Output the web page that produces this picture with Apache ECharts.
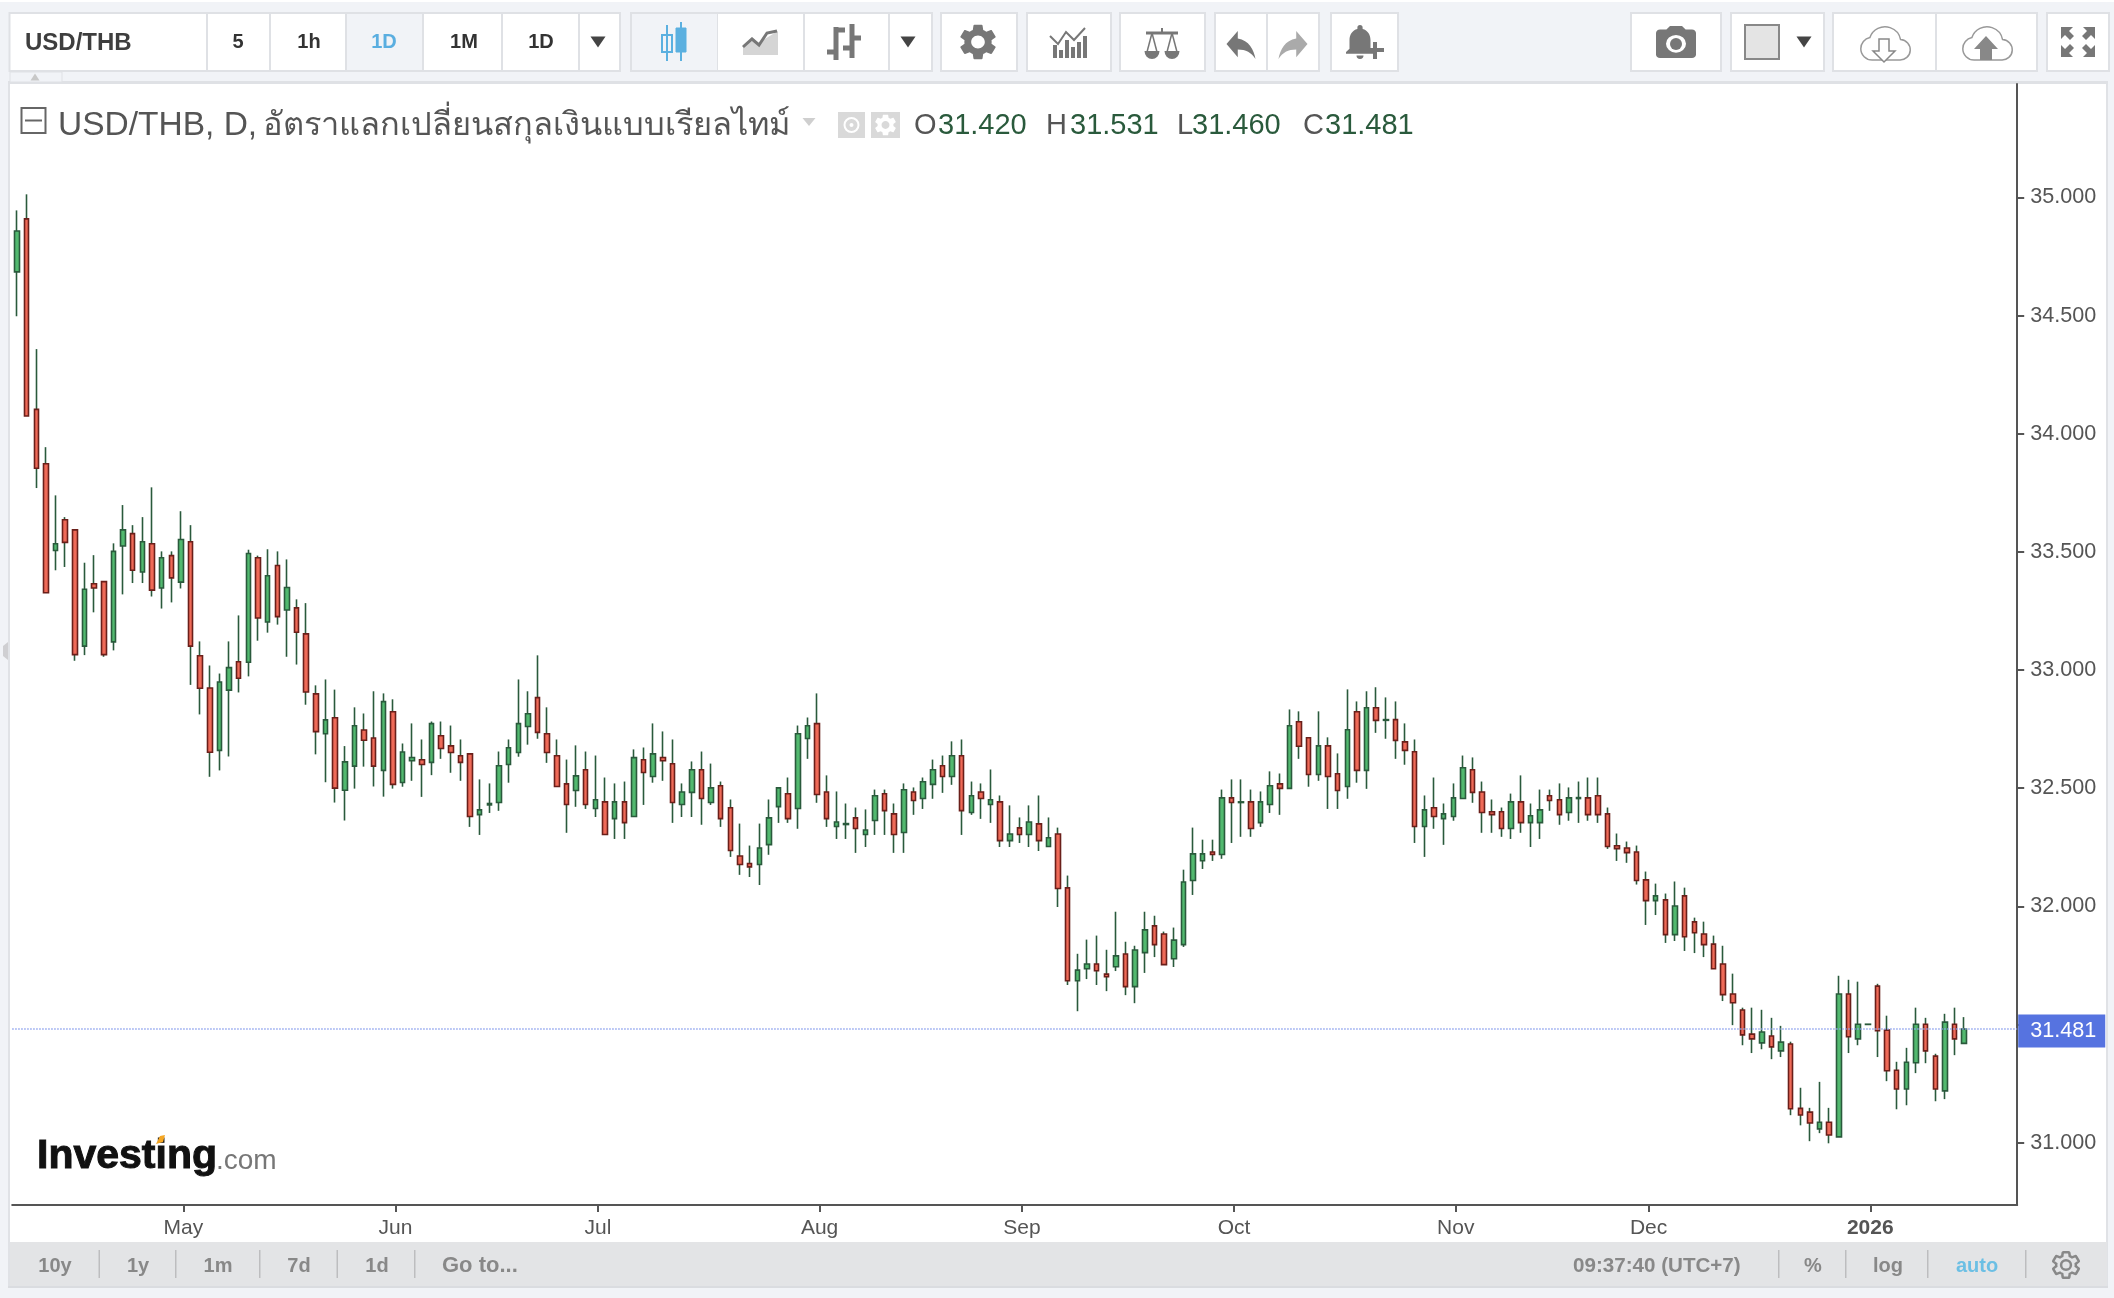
<!DOCTYPE html>
<html><head><meta charset="utf-8">
<style>html,body{margin:0;padding:0;background:#f1f3f7}#c{width:2114px;height:1298px}</style>
<script src="https://cdn.jsdelivr.net/npm/echarts@6/dist/echarts.min.js"></script>
</head><body><div id="c"></div>
<script>
const opens=[34.685,34.909,34.103,33.873,33.506,33.636,33.593,33.101,33.365,33.374,
33.119,33.525,33.577,33.415,33.534,33.347,33.484,33.372,33.543,33.060,
32.924,32.660,32.915,33.035,33.033,33.475,33.203,33.442,33.254,33.263,
33.153,32.899,32.730,32.798,32.491,32.593,32.746,32.712,32.575,32.823,
32.524,32.616,32.620,32.609,32.722,32.679,32.637,32.645,32.388,32.429,
32.439,32.600,32.651,32.761,32.883,32.730,32.637,32.518,32.490,32.578,
32.414,32.442,32.371,32.442,32.380,32.620,32.549,32.630,32.603,32.431,
32.482,32.578,32.439,32.510,32.417,32.213,32.181,32.177,32.261,32.422,
32.476,32.414,32.710,32.773,32.484,32.338,32.346,32.374,32.304,32.363,
32.476,32.391,32.312,32.484,32.456,32.516,32.595,32.549,32.637,32.397,
32.484,32.431,32.442,32.278,32.332,32.304,32.349,32.253,32.306,32.078,
31.685,31.736,31.756,31.713,31.744,31.798,31.660,31.804,31.917,31.883,
31.778,31.838,32.109,32.193,32.230,32.219,32.459,32.439,32.442,32.354,
32.431,32.518,32.499,32.781,32.713,32.558,32.679,32.561,32.507,32.823,
32.575,32.840,32.787,32.790,32.696,32.654,32.338,32.417,32.371,32.380,
32.456,32.578,32.484,32.400,32.400,32.329,32.442,32.354,32.354,32.468,
32.451,32.397,32.456,32.459,32.468,32.391,32.256,32.247,32.230,32.112,
32.024,32.027,31.880,32.044,31.934,31.883,31.840,31.756,31.629,31.561,
31.459,31.422,31.451,31.388,31.417,31.145,31.129,31.058,31.086,31.024,
31.629,31.439,31.500,31.662,31.476,31.306,31.227,31.338,31.501,31.366,31.219,31.501,31.420];
const closes=[34.858,34.075,33.854,33.327,33.534,33.540,33.065,33.342,33.347,33.065,
33.502,33.593,33.422,33.543,33.338,33.475,33.390,33.552,33.101,32.923,
32.652,32.949,33.010,32.965,33.493,33.220,33.399,33.226,33.349,33.160,
32.907,32.739,32.789,32.500,32.611,32.764,32.703,32.593,32.866,32.516,
32.653,32.630,32.600,32.773,32.668,32.651,32.609,32.380,32.408,32.435,
32.595,32.671,32.773,32.815,32.736,32.651,32.507,32.431,32.552,32.431,
32.451,32.304,32.442,32.354,32.629,32.566,32.645,32.616,32.439,32.484,
32.578,32.456,32.501,32.371,32.236,32.177,32.167,32.247,32.374,32.501,
32.371,32.730,32.764,32.473,32.371,32.357,32.350,32.329,32.323,32.468,
32.405,32.304,32.493,32.448,32.527,32.578,32.549,32.637,32.405,32.468,
32.456,32.451,32.278,32.306,32.304,32.357,32.278,32.290,32.075,31.685,
31.730,31.756,31.727,31.702,31.790,31.660,31.815,31.900,31.838,31.753,
31.857,32.103,32.222,32.222,32.219,32.459,32.439,32.442,32.329,32.442,
32.510,32.499,32.764,32.677,32.558,32.679,32.549,32.490,32.747,32.575,
32.840,32.787,32.790,32.702,32.660,32.338,32.408,32.380,32.391,32.459,
32.586,32.482,32.397,32.388,32.329,32.442,32.354,32.383,32.408,32.448,
32.388,32.459,32.460,32.388,32.388,32.253,32.244,32.227,32.109,32.024,
32.044,31.880,32.001,31.871,31.888,31.838,31.736,31.626,31.592,31.456,
31.439,31.468,31.405,31.425,31.143,31.117,31.083,31.086,31.032,31.629,
31.448,31.501,31.501,31.473,31.304,31.227,31.340,31.501,31.388,31.227,31.510,31.439,31.481];
const highs=[34.945,35.013,34.358,33.943,33.739,33.647,33.593,33.454,33.486,33.374,
33.536,33.698,33.613,33.647,33.773,33.502,33.502,33.672,33.613,33.121,
33.019,32.985,33.121,33.231,33.509,33.484,33.511,33.502,33.468,33.299,
33.283,32.935,32.960,32.917,32.678,32.842,32.816,32.910,32.901,32.876,
32.689,32.774,32.706,32.782,32.782,32.765,32.706,32.645,32.537,32.520,
32.655,32.706,32.960,32.910,33.062,32.842,32.706,32.621,32.681,32.655,
32.638,32.545,32.520,32.528,32.664,32.672,32.774,32.740,32.706,32.520,
32.613,32.655,32.604,32.528,32.452,32.350,32.257,32.350,32.452,32.501,
32.545,32.765,32.799,32.901,32.554,32.486,32.435,32.418,32.410,32.494,
32.494,32.435,32.520,32.503,32.545,32.621,32.638,32.698,32.706,32.528,
32.520,32.579,32.469,32.427,32.376,32.427,32.469,32.376,32.333,32.130,
31.799,31.859,31.876,31.816,31.977,31.850,31.833,31.977,31.960,31.893,
31.910,32.155,32.333,32.282,32.282,32.494,32.537,32.537,32.494,32.486,
32.571,32.562,32.833,32.825,32.713,32.825,32.715,32.647,32.918,32.867,
32.910,32.927,32.884,32.867,32.774,32.706,32.469,32.545,32.435,32.520,
32.638,32.630,32.528,32.452,32.418,32.477,32.554,32.435,32.494,32.494,
32.520,32.503,32.528,32.545,32.545,32.418,32.308,32.274,32.257,32.147,
32.096,32.054,32.105,32.079,31.952,31.935,31.876,31.833,31.715,31.571,
31.571,31.562,31.528,31.494,31.427,31.232,31.147,31.257,31.147,31.706,
31.689,31.681,31.501,31.672,31.537,31.342,31.401,31.571,31.528,31.376,31.545,31.571,31.531];
const lows=[34.497,34.075,33.770,33.327,33.422,33.436,33.039,33.063,33.244,33.056,
33.083,33.320,33.368,33.368,33.311,33.260,33.286,33.345,32.937,32.812,
32.548,32.575,32.634,32.905,32.973,33.124,33.158,33.192,33.056,33.023,
32.853,32.643,32.525,32.439,32.363,32.498,32.591,32.507,32.464,32.498,
32.506,32.531,32.463,32.555,32.624,32.565,32.531,32.336,32.302,32.395,
32.404,32.523,32.633,32.684,32.709,32.607,32.507,32.311,32.421,32.412,
32.378,32.304,32.285,32.285,32.380,32.429,32.523,32.531,32.353,32.378,
32.378,32.345,32.429,32.336,32.209,32.133,32.124,32.090,32.218,32.353,
32.353,32.328,32.624,32.438,32.336,32.285,32.285,32.226,32.251,32.302,
32.302,32.226,32.226,32.387,32.412,32.455,32.480,32.514,32.302,32.387,
32.370,32.353,32.251,32.251,32.268,32.251,32.234,32.253,31.997,31.667,
31.556,31.692,31.667,31.641,31.726,31.624,31.590,31.718,31.785,31.753,
31.743,31.828,32.048,32.158,32.192,32.201,32.268,32.294,32.294,32.336,
32.395,32.387,32.499,32.624,32.506,32.531,32.412,32.412,32.455,32.523,
32.497,32.734,32.709,32.624,32.599,32.268,32.209,32.328,32.260,32.362,
32.456,32.438,32.311,32.311,32.294,32.285,32.311,32.251,32.285,32.404,
32.345,32.362,32.353,32.362,32.353,32.243,32.192,32.184,32.092,31.921,
31.963,31.845,31.853,31.811,31.802,31.785,31.736,31.599,31.497,31.412,
31.379,31.395,31.353,31.362,31.116,31.073,31.006,31.040,30.997,31.024,
31.379,31.412,31.500,31.362,31.260,31.141,31.158,31.294,31.336,31.175,31.184,31.370,31.420];

const monthLabels=['May','Jun','Jul','Aug','Sep','Oct','Nov','Dec','2026'];
const monthStarts=[17,39,60,83,104,126,149,169,192];
const trailingEmptySlots=5;
const priceTicks=[31,31.5,32,32.5,33,33.5,34,34.5,35];
const lastClose=31.481;
const titleLatin='USD/THB, D,';
const titleThai='อัตราแลกเปลี่ยนสกุลเงินแบบเรียลไทม์';
const ohlcReadout=[['O','31.420'],['H','31.531'],['L','31.460'],['C','31.481']];

const categories=Array.from({length:opens.length+trailingEmptySlots},()=> '');
monthStarts.forEach((s,i)=>{categories[s]=monthLabels[i];});
const wickData=opens.map((o,i)=>[o,closes[i],lows[i],highs[i]]);
const bodyData=opens.map((o,i)=>[o,closes[i],Math.min(o,closes[i]),Math.max(o,closes[i])]);

const FONT='"Liberation Sans",Arial,sans-serif';
const GRAY='#555', BG='#f1f3f7', EDGE='#dfe1e5', DARKG='#2a5a3c';

const ICONS={
 gear:{d:'M19.14 12.94c.04-.3.06-.61.06-.94 0-.32-.02-.64-.07-.94l2.03-1.58c.18-.14.23-.41.12-.61l-1.92-3.32c-.12-.22-.37-.29-.59-.22l-2.39.96c-.5-.38-1.03-.7-1.62-.94l-.36-2.54c-.04-.24-.24-.41-.48-.41h-3.84c-.24 0-.43.17-.47.41l-.36 2.54c-.59.24-1.13.57-1.62.94l-2.39-.96c-.22-.08-.47 0-.59.22L2.74 8.87c-.12.21-.08.47.12.61l2.03 1.58c-.05.3-.09.63-.09.94s.02.64.07.94l-2.03 1.58c-.18.14-.23.41-.12.61l1.92 3.32c.12.22.37.29.59.22l2.39-.96c.5.38 1.03.7 1.62.94l.36 2.54c.05.24.24.41.48.41h3.84c.24 0 .44-.17.47-.41l.36-2.54c.59-.24 1.13-.56 1.62-.94l2.39.96c.22.08.47 0 .59-.22l1.92-3.32c.12-.22.07-.47-.12-.61l-2.01-1.58zM12 15.6c-1.98 0-3.6-1.62-3.6-3.6s1.62-3.6 3.6-3.6 3.6 1.62 3.6 3.6-1.62 3.6-3.6 3.6z',b:[12,12,19,19.5]},
 undo:{d:'M10 9V5l-7 7 7 7v-4.1c5 0 8.5 1.6 11 5.1-1-5-4-10-11-11z',b:[12,12.5,18,15]},
 redo:{d:'M14 9V5l7 7-7 7v-4.1c-5 0-8.5 1.6-11 5.1 1-5 4-10 11-11z',b:[12,12.5,18,15]},
 bell:{d:'M12 22a2 2 0 0 0 2-2h-4a2 2 0 0 0 2 2zm6-6v-5c0-3-1.6-5.6-4.5-6.3V4a1.5 1.5 0 0 0-3 0v.7C7.6 5.4 6 8 6 11v5l-2 2v1h16v-1z',b:[12,12.2,16,19.5]},
 camera:{d:'M20 5h-3.2L15 3H9L7.2 5H4c-1.1 0-2 .9-2 2v12c0 1.1.9 2 2 2h16c1.1 0 2-.9 2-2V7c0-1.1-.9-2-2-2zm-8 13a5 5 0 1 1 0-10 5 5 0 0 1 0 10z',b:[12,12,20,18]},
 cloud:{d:'M19 18H7a5 5 0 0 1-1-9.9A7 7 0 0 1 19.5 9 4.5 4.5 0 0 1 19 18z',b:[12.2,10.5,22,15]},
 bowl:{d:'M0 0h14a7 7 0 0 1-14 0z',b:[7,3.5,14,7]}
};
Object.keys(ICONS).forEach(k=>echarts.graphic.registerShape('ic_'+k,echarts.graphic.extendPath(ICONS[k].d,{})));

const els=[];
const R=(x,y,w,h,fill,stroke,lw,z)=>els.push({type:'rect',z:z===undefined?1:z,silent:true,shape:{x,y,width:w,height:h},style:{fill:fill||'none',stroke:stroke||'none',lineWidth:lw||0}});
const T=(x,y,t,o)=>els.push({type:'text',z:3,silent:true,x,y,style:Object.assign({text:t,font:'20px '+FONT,fill:'#333',textAlign:'center',textVerticalAlign:'middle'},o||{})});
const tri=(cx,cy,w,h,fill,up)=>els.push({type:'polygon',z:3,silent:true,shape:{points:up?[[cx-w/2,cy+h/2],[cx+w/2,cy+h/2],[cx,cy-h/2]]:[[cx-w/2,cy-h/2],[cx+w/2,cy-h/2],[cx,cy+h/2]]},style:{fill}});
const P=(k,cx,cy,w,h,fill,stroke,lw)=>{const b=ICONS[k].b,sx=w/b[2],sy=h/b[3];
  els.push({type:'ic_'+k,z:3,silent:true,shape:{},x:cx-b[0]*sx,y:cy-b[1]*sy,scaleX:sx,scaleY:sy,style:{fill:fill||'none',stroke:stroke||'none',lineWidth:lw||0,strokeNoScale:true}});};
const L=(pts,stroke,lw)=>els.push({type:'polyline',z:3,silent:true,shape:{points:pts},style:{stroke,lineWidth:lw,fill:'none'}});
const C=(cx,cy,r,fill,stroke,lw)=>els.push({type:'circle',z:3,silent:true,shape:{cx,cy,r},style:{fill:fill||'none',stroke:stroke||'none',lineWidth:lw||0}});

// frame
R(0,0,2114,2,'#ffffff',null,0,-3);
R(10,84,2097,1158,'#ffffff',null,0,-2);
R(8,83,2,1204,'#e0e2e6',null,0,0);
R(2106,83,2,1204,'#e0e2e6',null,0,0);
R(8,81,2100,3,'#dfe1e5',null,0,0);
R(10,1242,2097,45,'#e3e4e6',null,0,0);
R(8,1286,2100,2,'#dadce0',null,0,0);
els.push({type:'polygon',z:3,silent:true,shape:{points:[[8,642],[3,646],[3,656],[8,660]]},style:{fill:'#cfcfd2'}});
R(10,72,52,10,BG,EDGE,1);
tri(35,77,9,7,'#c8c8c8',true);

// toolbar
const btn=(x1,x2,seps)=>{R(x1,13,x2-x1,58,'#ffffff',EDGE,2);(seps||[]).forEach(s=>R(s-1,13,2,58,EDGE));};
btn(9.5,620,[207,270,346,423,502,579]);
R(347,14,75,56,BG);
T(25,43,'USD/THB',{font:'bold 24px '+FONT,fill:'#3e3e3e',textAlign:'left'});
[['5',238],['1h',309],['1D',384],['1M',464],['1D',541]].forEach((b,i)=>T(b[1],42,b[0],{font:'bold 20px '+FONT,fill:i===2?'#5aaee0':'#333'}));
tri(598,42,15,11,'#444');
btn(631,932,[717,804,889]);
R(632,14,85,56,BG);
// candle icon
L([[667,25],[667,61]],'#5bb0e0',2);R(662,35,10,17,'#f1f3f7','#5bb0e0',2,2);
L([[681,22],[681,61]],'#5bb0e0',2);R(676,28,10,24,'#5bb0e0','#5bb0e0',1,2);
// area icon
els.push({type:'polygon',z:3,silent:true,shape:{points:[[743,45],[752,37],[758,43],[778,31],[778,55],[743,55]]},style:{fill:'#d5d5d5'}});
L([[743,47],[752,39],[759,45],[767,33],[777,31]],'#777',3);
// ohlc bar icon
L([[836,27],[836,60]],'#777',5);L([[836,30],[845,30]],'#777',5);L([[827,52],[836,52]],'#777',5);
L([[852,24],[852,58]],'#777',5);L([[852,38],[861,38]],'#777',5);L([[843,48],[852,48]],'#777',5);
tri(908,42,15,11,'#444');
btn(941,1017);
P('gear',978,42,36,35,'#777');
btn(1027,1111);
[[1053,45,13],[1059,50,8],[1065,40,18],[1071,47,11],[1077,42,16],[1083,36,22]].forEach(b=>R(b[0],b[1],4,b[2],'#777',null,0,2));
L([[1050,36],[1058,44],[1066,32],[1074,40],[1085,28]],'#777',2);
btn(1120,1205);
L([[1162,28],[1162,33]],'#777',2);L([[1146,33],[1178,33]],'#777',3);
L([[1152,33],[1147,52]],'#777',1.5);L([[1152,33],[1157,52]],'#777',1.5);L([[1172,33],[1167,52]],'#777',1.5);L([[1172,33],[1177,52]],'#777',1.5);
P('bowl',1152,55,15,8,'#777');P('bowl',1172,55,15,8,'#777');
btn(1215,1319,[1267]);
P('undo',1241,45,29,28,'#777');P('redo',1293,45,29,28,'#aaa');
btn(1331,1398);
P('bell',1360,42,28,34,'#777');
L([[1366,50],[1384,50]],'#777',4);L([[1375,42],[1375,59]],'#777',4);
btn(1631,1721);
P('camera',1676,42,40,32,'#777');
C(1676,44,6,'#777');
btn(1731,1824);
R(1745,25,34,34,'#e4e4e4','#888',2,2);
tri(1804,42,15,11,'#444');
btn(1833,2037,[1936]);
P('cloud',1884,43,50,34,'#fff','#999',1.5);
els.push({type:'polygon',z:4,silent:true,shape:{points:[[1879,39],[1889,39],[1889,51],[1895,51],[1884,62],[1873,51],[1879,51]]},style:{fill:'#fff',stroke:'#888',lineWidth:1.5}});
P('cloud',1986,43,50,34,'#fff','#999',1.5);
els.push({type:'polygon',z:4,silent:true,shape:{points:[[1986,36],[1998,49],[1992,49],[1992,60],[1980,60],[1980,49],[1974,49]]},style:{fill:'#888'}});
btn(2047,2109);
[[2061,27,1,1],[2095,27,-1,1],[2061,57,1,-1],[2095,57,-1,-1]].forEach(a=>{
  const [x,y,sx,sy]=a;
  els.push({type:'polygon',z:3,silent:true,shape:{points:[[x,y],[x+12*sx,y],[x+8*sx,y+4*sy],[x+13*sx,y+9*sy],[x+9*sx,y+13*sy],[x+4*sx,y+8*sy],[x,y+12*sy]]},style:{fill:'#777'}});
});

// title row
R(21.5,108,24,25,'#fff','#666',2,2);L([[25,120.5],[42,120.5]],'#666',2);
T(58,126,titleLatin,{font:'33.5px '+FONT,fill:GRAY,textAlign:'left'});
T(263,126,titleThai,{font:'32.6px '+FONT,fill:GRAY,textAlign:'left'});
tri(809,122,13,8,'#cfcfcf');
R(838,112,27,26,'#d9d9d9',null,0,2);C(851.5,125,7,'none','#fff',2);C(851.5,125,2,'#fff');
R(871,112,29,26,'#d9d9d9',null,0,2);P('gear',885.5,125,21,21,'#fff');
const ohlcX=[[914,938],[1046,1070],[1177,1192],[1303,1325]];
ohlcReadout.forEach((o,i)=>{
  T(ohlcX[i][0],126,o[0],{font:'29px '+FONT,fill:GRAY,textAlign:'left'});
  T(ohlcX[i][1],126,o[1],{font:'29px '+FONT,fill:DARKG,textAlign:'left'});
});

// logo
T(37,1157,'Investing',{font:'bold 41px '+FONT,fill:'#111',stroke:'#111',lineWidth:1,textAlign:'left'});
T(216,1161,'.com',{font:'28px '+FONT,fill:'#777',textAlign:'left'});
els.push({type:'polygon',z:4,silent:true,shape:{points:[[156,1144],[160,1136],[165,1135],[163,1142]]},style:{fill:'#f5a623'}});

// bottom bar
[['10y',55],['1y',138],['1m',218],['7d',299],['1d',377]].forEach(b=>T(b[1],1266,b[0],{font:'bold 20px '+FONT,fill:'#888'}));
T(442,1266,'Go to...',{font:'bold 22px '+FONT,fill:'#888',textAlign:'left'});
[98.5,175,259,336.5,414,1778,1845,1927,2025].forEach(x=>R(x,1250,1.5,28,'#bdbdbf',null,0,2));
T(1573,1266,'09:37:40 (UTC+7)',{font:'bold 20.6px '+FONT,fill:'#888',textAlign:'left'});
T(1813,1266,'%',{font:'bold 20px '+FONT,fill:'#888'});
T(1888,1266,'log',{font:'bold 20px '+FONT,fill:'#888'});
T(1977,1266,'auto',{font:'bold 20px '+FONT,fill:'#6cbfe4'});
P('gear',2066,1265,26,26,'none','#888',2.5);

const isMonth=(i,v)=>v!=='';
const chart=echarts.init(document.getElementById('c'),null,{renderer:'canvas'});
chart.setOption({
  animation:false,
  backgroundColor:BG,
  graphic:{elements:els},
  grid:[
    {left:12.2,width:2005,top:84,height:1121,containLabel:false},
    {left:14.7,width:2005,top:84,height:1121,containLabel:false}
  ],
  xAxis:[
    {type:'category',gridIndex:0,data:categories,boundaryGap:true,
     axisLine:{lineStyle:{color:GRAY,width:2}},axisTick:{show:false},axisLabel:{show:false},splitLine:{show:false}},
    {type:'category',gridIndex:1,data:categories,boundaryGap:true,
     axisLine:{show:false},
     axisTick:{show:true,length:7,alignWithLabel:true,interval:isMonth,lineStyle:{color:GRAY,width:2}},
     axisLabel:{show:true,interval:isMonth,hideOverlap:false,margin:13,color:GRAY,fontFamily:FONT,fontSize:21,
       formatter:v=>v==='2026'?'{b|2026}':v,rich:{b:{fontWeight:'bold',fontFamily:FONT,fontSize:21,color:GRAY}}},
     splitLine:{show:false}}
  ],
  yAxis:[
    {type:'value',gridIndex:0,position:'right',scale:true,min:30.7359,max:35.4799,
     axisLine:{show:true,lineStyle:{color:GRAY,width:2}},
     axisTick:{show:true,length:7,customValues:priceTicks,lineStyle:{color:GRAY,width:2}},
     axisLabel:{show:true,margin:13,padding:[4,0,0,0],color:GRAY,fontFamily:FONT,fontSize:21.6,customValues:priceTicks,formatter:v=>v.toFixed(3)},
     splitLine:{show:false}},
    {type:'value',gridIndex:1,show:false,min:30.7359,max:35.4799}
  ],
  series:[
    {type:'candlestick',name:'wicks',xAxisIndex:0,yAxisIndex:0,data:wickData,barWidth:1,clip:false,silent:true,z:2,
     itemStyle:{color:DARKG,color0:DARKG,borderColor:DARKG,borderColor0:DARKG,borderWidth:1.6}},
    {type:'candlestick',name:'USD/THB',xAxisIndex:0,yAxisIndex:0,data:bodyData,barWidth:5,clip:false,silent:true,z:3,
     itemStyle:{color:'#52b96f',color0:'#ef6a58',borderColor:'#2a5a3c',borderColor0:'#6a1f1a',borderWidth:1.6},
     markLine:{silent:true,symbol:'none',animation:false,precision:3,data:[{yAxis:lastClose}],
       lineStyle:{color:'#8fa3ee',type:'dotted',width:1.5},
       label:{show:true,position:'end',distance:1,offset:[0,2],formatter:()=>lastClose.toFixed(3),color:'#fff',fontFamily:FONT,fontSize:21.6,
         backgroundColor:'#5673e0',padding:[6,9,5,12]}}}
  ],
  tooltip:{show:false},legend:{show:false}
});
</script></body></html>
